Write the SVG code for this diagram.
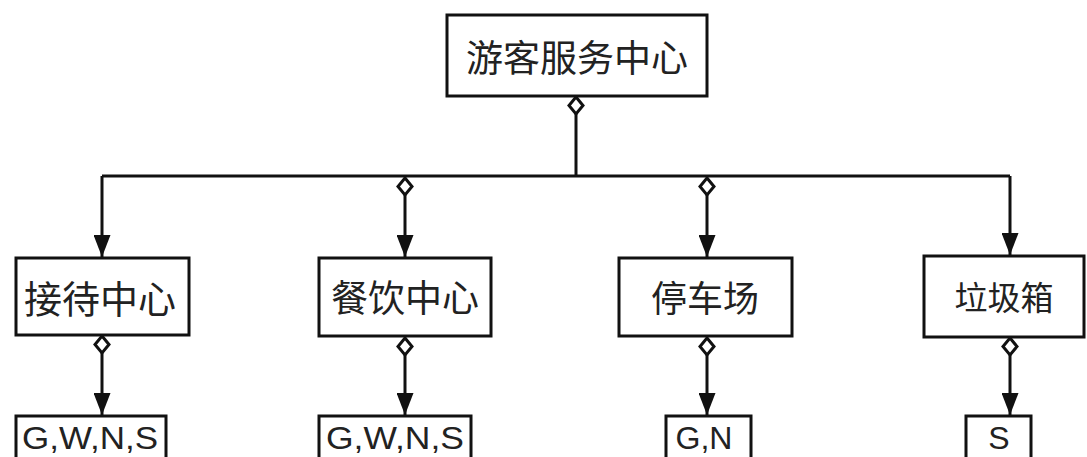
<svg xmlns="http://www.w3.org/2000/svg" width="1087" height="457" viewBox="0 0 1087 457">
<defs>
<style>
.box{fill:#fff;stroke:#111;stroke-width:3}
.lbl{font-family:"Noto Sans CJK SC","Noto Sans",sans-serif;fill:#222;text-anchor:middle;dominant-baseline:central}
.lat{font-family:"Liberation Sans",Arial,sans-serif;fill:#222;text-anchor:middle}
.ln{fill:none;stroke:#111;stroke-width:3}
</style>
<marker id="ah" viewBox="0 0 22 17" refX="22" refY="8.5" markerWidth="22" markerHeight="17" markerUnits="userSpaceOnUse" orient="auto">
<path d="M0,0 L22,8.5 L0,17 Z" fill="#111"/>
</marker>
<marker id="dm" viewBox="-2 -2 22 18" refX="0" refY="7" markerWidth="22" markerHeight="18" markerUnits="userSpaceOnUse" orient="auto">
<path d="M0,7 L8.5,0 L17,7 L8.5,14 Z" fill="#fff" stroke="#111" stroke-width="3"/>
</marker>
</defs>
<g id="connectors">
<path class="ln" marker-start="url(#dm)" d="M576,97 V176"/>
<path class="ln" d="M102,176 H1010"/>
<path class="ln" marker-end="url(#ah)" d="M102,176 V257"/>
<path class="ln" marker-start="url(#dm)" marker-end="url(#ah)" d="M405,178 V257"/>
<path class="ln" marker-start="url(#dm)" marker-end="url(#ah)" d="M707,178 V257"/>
<path class="ln" marker-end="url(#ah)" d="M1010,176 V255"/>
<path class="ln" marker-start="url(#dm)" marker-end="url(#ah)" d="M102,336 V415"/>
<path class="ln" marker-start="url(#dm)" marker-end="url(#ah)" d="M405,338 V415"/>
<path class="ln" marker-start="url(#dm)" marker-end="url(#ah)" d="M707,338 V415"/>
<path class="ln" marker-start="url(#dm)" marker-end="url(#ah)" d="M1010,338 V415"/>
</g>
<g id="n-top"><rect class="box" x="447" y="15" width="260" height="81"/><text class="lbl" x="577" y="56" font-size="37">游客服务中心</text></g>
<g id="n-reception"><rect class="box" x="16" y="258" width="173" height="77"/><text class="lbl" x="100" y="296" font-size="38">接待中心</text></g>
<g id="n-dining"><rect class="box" x="319" y="258" width="172" height="78"/><text class="lbl" x="405" y="296" font-size="37">餐饮中心</text></g>
<g id="n-parking"><rect class="box" x="619" y="258" width="173" height="78"/><text class="lbl" x="705" y="296" font-size="36">停车场</text></g>
<g id="n-trash"><rect class="box" x="924" y="256" width="160" height="81"/><text class="lbl" x="1004" y="296" font-size="33">垃圾箱</text></g>
<g id="n-r1"><rect class="box" x="16" y="416" width="150" height="60"/><text class="lat" x="90" y="449" font-size="32" textLength="136" lengthAdjust="spacingAndGlyphs">G,W,N,S</text></g>
<g id="n-r2"><rect class="box" x="319" y="416" width="152" height="60"/><text class="lat" x="395" y="449" font-size="32" textLength="138" lengthAdjust="spacingAndGlyphs">G,W,N,S</text></g>
<g id="n-r3"><rect class="box" x="666" y="416" width="85" height="60"/><text class="lat" x="704" y="449" font-size="32" textLength="57" lengthAdjust="spacingAndGlyphs">G,N</text></g>
<g id="n-r4"><rect class="box" x="966" y="416" width="65" height="60"/><text class="lat" x="999" y="449" font-size="32">S</text></g>
</svg>
